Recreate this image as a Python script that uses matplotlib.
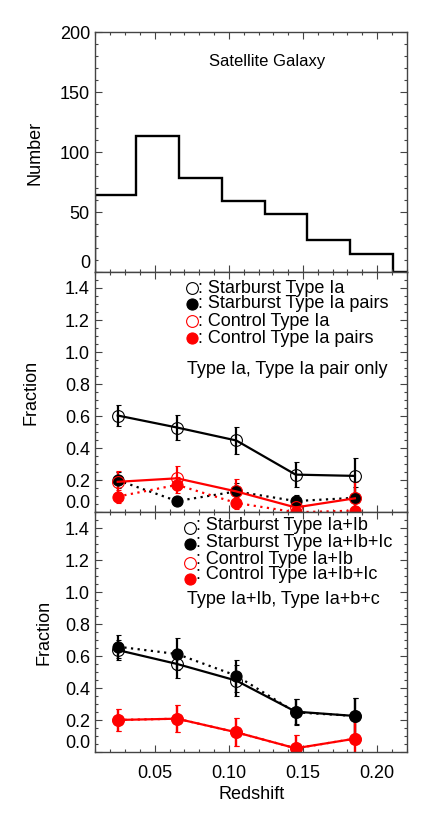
import numpy as np
import matplotlib
matplotlib.use('Agg')
import matplotlib.pyplot as plt
from matplotlib.ticker import MultipleLocator, FormatStrFormatter

plt.rcParams['font.family'] = ['Liberation Sans', 'DejaVu Sans']
plt.rcParams['font.size'] = 13

# histogram of satellite redshifts
hist_edges = [0.01, 0.0375, 0.0665, 0.0955, 0.1245, 0.153, 0.182, 0.211, 0.22]
hist_counts = [64, 113, 78, 59, 48, 27, 15, 0]

# redshift bins of the fraction panels
z = [0.025, 0.065, 0.105, 0.145, 0.185]

# middle panel: Type Ia / Type Ia pairs
sb_ia = [0.604, 0.529, 0.448, 0.235, 0.227]
sb_ia_err = [0.063, 0.076, 0.085, 0.078, 0.11]
sb_ia_pairs = [0.20, 0.07, 0.13, 0.07, 0.09]
sb_ia_pairs_err = [0.05, 0.02, 0.05, 0.035, 0.07]
ct_ia = [0.19, 0.212, 0.13, 0.03, 0.087]
ct_ia_err = [0.065, 0.075, 0.08, 0.04, 0.10]
ct_ia_pairs = [0.098, 0.171, 0.058, 0.0, 0.01]
ct_ia_pairs_err = [0.04, 0.05, 0.04, 0.02, 0.02]

# bottom panel: Type Ia+Ib / Type Ia+Ib+Ic
sb_iaib = [0.639, 0.552, 0.448, 0.254, 0.227]
sb_iaib_err = [0.065, 0.085, 0.095, 0.08, 0.11]
sb_iaibic = [0.66, 0.614, 0.479, 0.25, 0.227]
sb_iaibic_err = [0.07, 0.10, 0.10, 0.08, 0.115]
ct_iaib = [0.202, 0.21, 0.125, 0.025, 0.085]
ct_iaib_err = [0.068, 0.083, 0.087, 0.08, 0.11]
ct_iaibic = [0.202, 0.21, 0.125, 0.025, 0.085]
ct_iaibic_err = [0.068, 0.083, 0.087, 0.08, 0.11]

FRAME = '#444444'

fig = plt.figure(figsize=(4.36, 8.17), dpi=100)
L, W = 0.219, 0.714
ax1 = fig.add_axes([L, 0.667, W, 0.2938])
ax2 = fig.add_axes([L, 0.373, W, 0.2941])
ax3 = fig.add_axes([L, 0.0792, W, 0.2938])


def style(ax):
    ax.set_xlim(0.01, 0.22)
    ax.xaxis.set_major_locator(MultipleLocator(0.05))
    ax.xaxis.set_minor_locator(MultipleLocator(0.01))
    ax.tick_params(which='both', direction='in', top=True, right=True, color=FRAME, width=0.8)
    ax.tick_params(which='major', length=5, pad=4)
    ax.tick_params(which='minor', length=2.5)
    for s in ax.spines.values():
        s.set_color(FRAME)
        s.set_linewidth(1)


for ax in (ax1, ax2, ax3):
    style(ax)

# top panel
ax1.stairs(hist_counts, hist_edges, color='black', lw=1.7)
ax1.set_ylim(0, 200)
ax1.set_yticks([0, 50, 100, 150, 200])
ax1.yaxis.set_minor_locator(MultipleLocator(10))
ax1.tick_params(axis='x', labelbottom=False)
ax1.set_ylabel('Number')
ax1.yaxis.set_label_coords(-0.168, 0.495)
ax1.text(0.55, 0.876, 'Satellite Galaxy', transform=ax1.transAxes, ha='center', va='center',
         fontsize=12)

dots = (0, (1, 2.0))


def series(ax, y, err, color, filled, ls):
    ax.errorbar(z, y, yerr=err, color=color, lw=1.6, ls=ls, elinewidth=1.6,
                capsize=1.8, capthick=1.6, marker='o', ms=8 if filled else 8.5,
                mfc=color if filled else 'none', mec=color, mew=0.8)


def legend(ax, rows, xm, xt, ym, yt):
    for (label, color, filled), a, b in zip(rows, ym, yt):
        ax.plot([xm], [a], transform=ax.transAxes, marker='o', ms=8 if filled else 8.5,
                mfc=color if filled else 'none', mec=color, mew=0.8, ls='none', clip_on=False)
        ax.text(xt, b, ': ' + label, transform=ax.transAxes, ha='left', va='center')


for ax in (ax2, ax3):
    ax.set_ylim(0, 1.5)
    ax.set_yticks(np.arange(0, 1.41, 0.2))
    ax.yaxis.set_major_formatter(FormatStrFormatter('%.1f'))
    ax.yaxis.set_minor_locator(MultipleLocator(0.05))
    ax.set_ylabel('Fraction')

# middle panel
series(ax2, sb_ia, sb_ia_err, 'black', False, '-')
series(ax2, sb_ia_pairs, sb_ia_pairs_err, 'black', True, dots)
series(ax2, ct_ia, ct_ia_err, 'red', False, '-')
series(ax2, ct_ia_pairs, ct_ia_pairs_err, 'red', True, dots)
ax2.tick_params(axis='x', labelbottom=False)
ax2.yaxis.set_label_coords(-0.181, 0.5)
legend(ax2, [('Starburst Type Ia', 'black', False),
             ('Starburst Type Ia pairs', 'black', True),
             ('Control Type Ia', 'red', False),
             ('Control Type Ia pairs', 'red', True)],
       0.309, 0.328, [0.933, 0.867, 0.794, 0.725], [0.933, 0.867, 0.794, 0.725])
ax2.text(0.294, 0.593, 'Type Ia, Type Ia pair only', transform=ax2.transAxes, va='center')

# bottom panel
series(ax3, sb_iaib, sb_iaib_err, 'black', False, '-')
series(ax3, sb_iaibic, sb_iaibic_err, 'black', True, dots)
series(ax3, ct_iaib, ct_iaib_err, 'red', False, dots)
series(ax3, ct_iaibic, ct_iaibic_err, 'red', True, '-')
ax3.yaxis.set_label_coords(-0.138, 0.5)
ax3.tick_params(axis='x', pad=9)
ax3.xaxis.set_major_formatter(FormatStrFormatter('%.2f'))
ax3.set_xlabel('Redshift')
ax3.xaxis.set_label_coords(0.5, -0.14)
ax3.xaxis.label.set_va('top')
legend(ax3, [('Starburst Type Ia+Ib', 'black', False),
             ('Starburst Type Ia+Ib+Ic', 'black', True),
             ('Control Type Ia+Ib', 'red', False),
             ('Control Type Ia+Ib+Ic', 'red', True)],
       0.304, 0.323, [0.933, 0.867, 0.7875, 0.721], [0.943, 0.873, 0.804, 0.739])
ax3.text(0.294, 0.6375, 'Type Ia+Ib, Type Ia+b+c', transform=ax3.transAxes, va='center')

# IDL lifts the lowest y label a little
for ax in (ax1, ax2, ax3):
    ax.yaxis.get_major_ticks()[0].label1.set_va('bottom')

fig.savefig('out.png', dpi=100)
